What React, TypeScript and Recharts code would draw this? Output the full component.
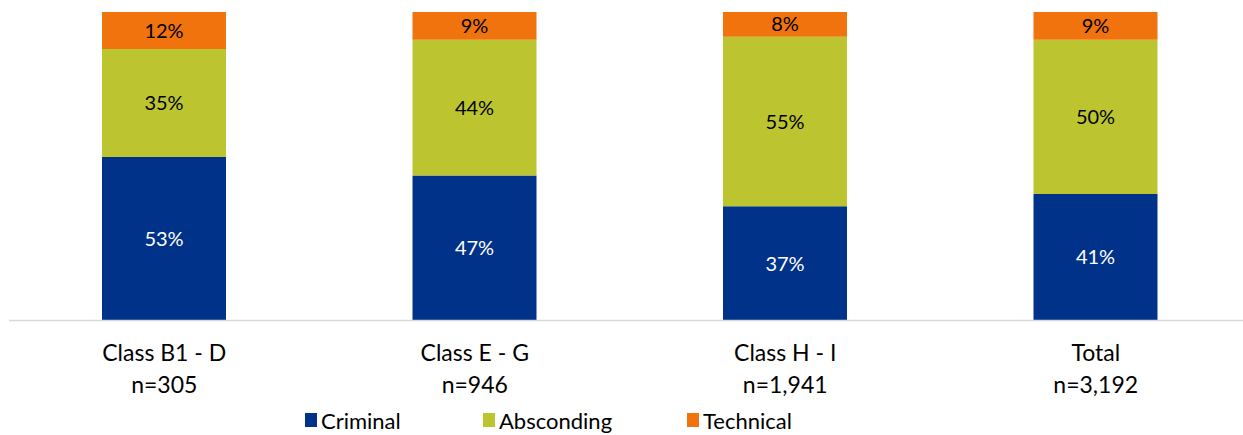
import { BarChart, Bar, XAxis, YAxis, Legend, LabelList } from "recharts";

// Share of returns by reason, per offender class
const categories = ["Class B1 - D", "Class E - G", "Class H - I", "Total"];
const sampleSizes = ["n=305", "n=946", "n=1,941", "n=3,192"];
const criminal = [53, 47, 37, 41];
const absconding = [35, 44, 55, 50];
const technical = [12, 9, 8, 9];

const seriesNames = ["Criminal", "Absconding", "Technical"];
const seriesColors = ["#013289", "#BCC52F", "#F1730E"];
const labelColors = ["#ffffff", "#000000", "#000000"];

const FONT = "Lato, 'Open Sans', sans-serif";

const data = categories.map((c, i) => ({
  name: c,
  n: sampleSizes[i],
  criminal: criminal[i],
  absconding: absconding[i],
  technical: technical[i],
}));

const seriesKeys = ["criminal", "absconding", "technical"];

function CategoryTick({ x, y, payload, index }: any) {
  return (
    <text x={x} y={y} textAnchor="middle" fontFamily={FONT} fontSize={23} fill="#000">
      <tspan x={x} dy={32}>{payload.value}</tspan>
      <tspan x={x} dy={32}>{sampleSizes[index]}</tspan>
    </text>
  );
}

function LegendContent() {
  const widths = [178, 204, 200];
  return (
    <div style={{ display: "flex", paddingLeft: 305, fontFamily: FONT, fontSize: 22, color: "#000" }}>
      {seriesNames.map((s, i) => (
        <div key={s} style={{ width: widths[i], display: "flex", alignItems: "center", height: 30 }}>
          <span style={{ width: 12, height: 14, background: seriesColors[i], display: "inline-block", marginRight: 4 }} />
          <span>{s}</span>
        </div>
      ))}
    </div>
  );
}

export default function App() {
  return (
    <div style={{ position: "absolute", left: 0, top: 0, width: 1243, height: 435, overflow: "hidden", background: "#fff" }}>
      <BarChart
        width={1251}
        height={435}
        data={data}
        margin={{ top: 12, right: 0, bottom: 0, left: 9 }}
        barSize={124}
      >
        <XAxis
          dataKey="name"
          tickLine={false}
          axisLine={{ stroke: "#d9d9d9", strokeWidth: 1.5 }}
          tick={<CategoryTick />}
          height={84.5}
          interval={0}
        />
        <YAxis hide domain={[0, 100]} />
        <Legend
          verticalAlign="bottom"
          height={30}
          content={<LegendContent />}
          wrapperStyle={{ left: 0, width: 1243 }}
        />
        {seriesKeys.map((k, i) => (
          <Bar key={k} dataKey={k} name={seriesNames[i]} stackId="a" fill={seriesColors[i]} isAnimationActive={false}>
            <LabelList
              dataKey={k}
              position="center"
              formatter={(v: any) => `${v}%`}
              fill={labelColors[i]}
              style={{ fontFamily: FONT, fontSize: 20 }}
            />
          </Bar>
        ))}
      </BarChart>
    </div>
  );
}
